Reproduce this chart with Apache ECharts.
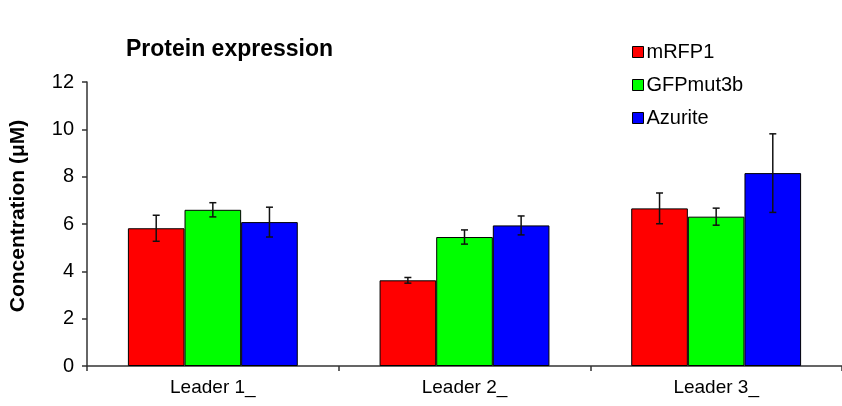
<!DOCTYPE html>
<html>
<head>
<meta charset="utf-8">
<script src="https://cdn.jsdelivr.net/npm/echarts@6/dist/echarts.min.js"></script>
<style>
  html, body { margin: 0; padding: 0; background: #fff; }
  #chart { width: 842px; height: 406px; }
</style>
</head>
<body>
<div id="chart"></div>
<script>
// Protein expression per leader sequence, mean ± error (µM)
const categories = ['Leader 1_', 'Leader 2_', 'Leader 3_'];
const seriesNames = ['mRFP1', 'GFPmut3b', 'Azurite'];
const mRFP1 = [5.82, 3.62, 6.66];
const GFPmut3b = [6.60, 5.45, 6.31];
const Azurite = [6.08, 5.94, 8.15];
const mRFP1Err = [0.55, 0.12, 0.65];
const GFPmut3bErr = [0.30, 0.30, 0.36];
const AzuriteErr = [0.63, 0.40, 1.66];
const yTicks = [0, 2, 4, 6, 8, 10, 12];

const values = [mRFP1, GFPmut3b, Azurite];
const errors = [mRFP1Err, GFPmut3bErr, AzuriteErr];
const colors = ['#ff0000', '#00ff00', '#0000ff'];
const BAR_FRACTION = 0.225;
const FONT = '"Liberation Sans", Arial, sans-serif';

const barSeries = seriesNames.map((name, i) => ({
  name: name,
  type: 'bar',
  data: values[i],
  barWidth: (BAR_FRACTION * 100) + '%',
  barGap: '0%',
  itemStyle: { color: colors[i], borderColor: '#000', borderWidth: 1 },
  z: 2
}));

// Error whiskers drawn over each bar of a series
const errorSeries = seriesNames.map((name, i) => ({
  type: 'custom',
  name: name + ' error',
  data: values[i].map((v, k) => [k, v - errors[i][k], v + errors[i][k]]),
  z: 5,
  renderItem: function (params, api) {
    const band = api.size([1, 0])[0];
    const bw = band * BAR_FRACTION;
    const center = api.coord([api.value(0), 0])[0] + (i - 1) * bw;
    const lo = api.coord([api.value(0), api.value(1)])[1];
    const hi = api.coord([api.value(0), api.value(2)])[1];
    const cap = 3.5;
    const style = { stroke: '#111', lineWidth: 1.5 };
    return {
      type: 'group',
      children: [
        { type: 'line', shape: { x1: center, y1: hi, x2: center, y2: lo }, style: style },
        { type: 'line', shape: { x1: center - cap, y1: hi, x2: center + cap, y2: hi }, style: style },
        { type: 'line', shape: { x1: center - cap, y1: lo, x2: center + cap, y2: lo }, style: style }
      ]
    };
  },
  encode: { x: 0, y: [1, 2] },
  silent: true
}));

const chart = echarts.init(document.getElementById('chart'), null, { renderer: 'canvas' });
chart.setOption({
  animation: false,
  backgroundColor: '#fff',
  textStyle: { fontFamily: FONT },
  title: {
    text: 'Protein expression',
    left: 121,
    top: 33,
    textStyle: { fontFamily: FONT, fontSize: 23, fontWeight: 'bold', color: '#000' }
  },
  legend: {
    orient: 'vertical',
    left: 627,
    top: 37,
    itemWidth: 11,
    itemHeight: 11,
    itemGap: 13,
    icon: 'rect',
    data: seriesNames,
    textStyle: { fontFamily: FONT, fontSize: 20, color: '#000', lineHeight: 20, padding: [0, 0, 0, -2] },
    itemStyle: { borderColor: '#000', borderWidth: 1 }
  },
  grid: { left: 87, right: -4, top: 82, bottom: 40, containLabel: false },
  xAxis: {
    type: 'category',
    data: categories,
    axisLine: { lineStyle: { color: '#333', width: 1.5 } },
    axisTick: { show: true, length: 5, alignWithLabel: false, lineStyle: { color: '#333', width: 1.5 } },
    axisLabel: { color: '#000', fontSize: 19, fontFamily: FONT, margin: 12 },
    splitLine: { show: false }
  },
  yAxis: {
    type: 'value',
    min: yTicks[0],
    max: yTicks[yTicks.length - 1],
    interval: yTicks[1] - yTicks[0],
    name: 'Concentration (μM)',
    nameLocation: 'middle',
    nameGap: 58,
    nameTextStyle: { fontFamily: FONT, fontSize: 21, fontWeight: 'bold', color: '#000', padding: [0, 0, 0, 16] },
    axisLine: { show: true, lineStyle: { color: '#333', width: 1.5 } },
    axisTick: { show: true, length: 5, lineStyle: { color: '#333', width: 1.5 } },
    axisLabel: { color: '#000', fontSize: 20, fontFamily: FONT, margin: 13 },
    splitLine: { show: false }
  },
  series: barSeries.concat(errorSeries)
});
</script>
</body>
</html>
